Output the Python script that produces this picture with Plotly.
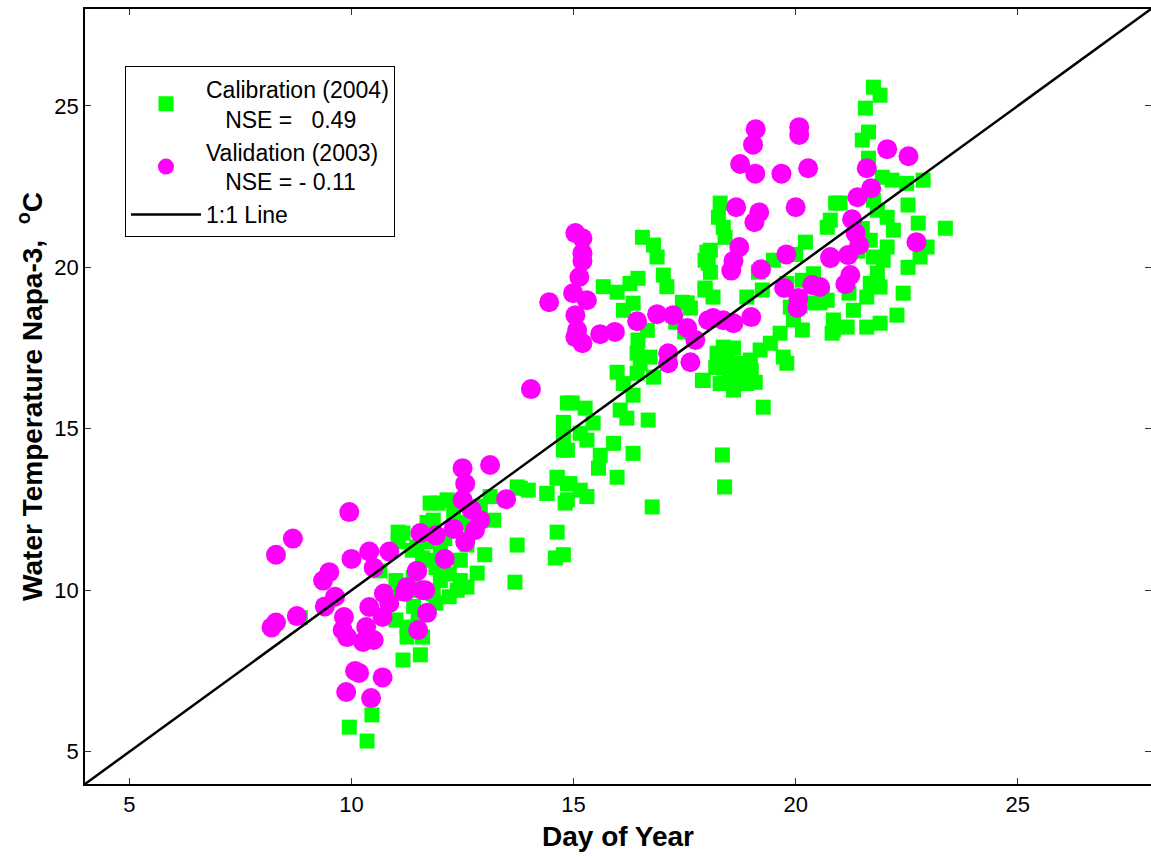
import plotly.graph_objects as go

# Calibration (2004) - green squares: (x, y)
cal_x = [11.05, 11.05, 11.7, 11.77, 11.37, 11.6, 10.64, 11.0, 11.1, 11.0, 11.25, 11.25, 11.16, 11.55, 11.6,
         10.46, 9.95, 10.35, 8.85, 11.4, 11.5, 11.3, 11.9, 12.2,
         14.86, 14.77, 14.77, 14.63, 14.86, 14.4, 14.81, 14.63, 13.73, 14.59, 14.77, 13.68, 13.73, 13.12,
         13.2, 11.95, 12.15, 11.84, 11.16, 11.47, 12.0, 12.45, 12.83, 12.45, 12.6, 12.0, 12.38, 11.84,
         11.39, 11.77, 12.3, 12.6, 12.9, 13.0, 12.5, 11.7, 12.1, 12.2, 11.9, 12.7, 13.98,
         16.55, 16.8, 16.88, 17.02, 17.1, 18.0, 17.96, 17.96, 15.67, 15.98, 16.27, 16.45, 16.34, 16.12,
         17.45, 17.63, 16.66, 16.45, 16.43, 16.5, 16.43, 16.72, 16.8, 15.98, 16.12, 16.34, 16.05, 16.2,
         16.68, 17.9, 14.97, 15.26, 14.77, 15.44, 14.77, 15.15, 15.3, 14.86, 15.9, 15.6, 16.34, 15.56,
         15.98, 14.63, 14.92, 15.15, 15.3, 14.4, 14.86, 13.8, 16.77, 17.3, 17.5,
         18.3, 18.26, 18.37, 18.41, 18.08, 18.03, 18.08, 17.96, 18.14, 17.56, 20.9, 20.71, 20.22, 19.5,
         19.16, 18.9, 19.25, 20.15, 20.37, 19.88, 19.95, 20.15, 20.85, 20.55, 19.65, 19.43, 19.2, 19.72,
         19.8, 18.98, 18.68, 18.37, 18.23, 17.92, 18.3, 18.6, 18.9, 19.09, 18.75, 19.27, 18.37, 18.35,
         18.4, 18.5, 18.8, 19.0, 18.6, 18.2, 18.45, 18.7,
         21.75, 21.9, 21.57, 21.64, 21.5, 21.64, 21.95, 22.17, 22.5, 22.87, 22.53, 22.76, 23.37, 22.96,
         22.8, 22.53, 22.42, 22.28, 21.9, 21.6, 20.82, 20.85, 20.71, 21.0, 20.78, 22.2, 22.06, 21.97,
         21.84, 21.68, 21.6, 21.3, 21.16, 21.84, 21.75, 22.06, 21.68, 21.75, 21.9, 21.4, 21.2, 21.5,
         20.6, 20.4, 20.1, 20.0, 19.8]
cal_y = [11.8, 11.5, 12.1, 12.7, 11.24, 11.0, 10.6, 10.3, 9.9, 9.08, 8.86, 8.55, 7.84, 8.0, 8.55,
         6.14, 5.76, 5.33, 9.15, 9.5, 9.2, 10.0, 9.6, 9.8,
         15.8, 15.18, 14.34, 13.47, 13.3, 13.0, 12.7, 11.8, 11.4, 11.0, 11.1, 10.25, 13.2, 12.9,
         12.17, 12.7, 12.8, 12.17, 11.77, 11.34, 11.24, 10.93, 10.53, 10.3, 10.1, 10.3, 10.0, 9.9,
         10.4, 10.93, 12.4, 11.4, 12.6, 11.1, 12.1, 11.5, 11.6, 10.5, 10.7, 11.9, 13.1,
         20.93, 20.69, 20.32, 19.76, 19.4, 20.47, 20.22, 19.36, 19.4, 19.23, 19.5, 19.66, 18.89, 18.67,
         18.92, 18.74, 18.05, 17.75, 17.34, 17.03, 16.72, 17.22, 16.6, 16.75, 16.4, 16.04, 15.58, 15.33,
         15.27, 16.5, 15.8, 15.64, 15.2, 15.18, 14.74, 14.86, 14.65, 14.34, 14.55, 14.18, 14.24, 13.78,
         13.5, 13.5, 13.3, 13.1, 12.9, 13.0, 12.8, 13.16, 12.58, 18.3, 18.0,
         21.99, 21.55, 21.24, 20.93, 20.53, 20.13, 19.85, 19.3, 19.08, 18.9, 21.99, 21.24, 20.78, 20.22,
         19.85, 19.08, 19.3, 19.6, 18.9, 18.77, 18.37, 18.06, 18.06, 18.9, 17.96, 17.65, 17.44, 17.22,
         17.03, 17.13, 17.03, 16.88, 17.34, 16.5, 16.4, 16.2, 16.4, 16.44, 16.72, 15.67, 17.53, 14.19,
         13.2, 16.6, 16.9, 16.8, 17.5, 16.9, 17.1, 16.5,
         25.58, 25.33, 24.93, 24.19, 23.94, 23.38, 22.79, 22.7, 22.6, 22.7, 21.93, 21.37, 21.21, 20.63,
         20.32, 20.0, 19.2, 18.52, 18.27, 18.15, 17.96, 18.37, 18.98, 21.99, 21.46, 21.15, 20.63, 20.22,
         19.82, 19.5, 19.08, 18.67, 18.15, 21.77, 22.08, 21.55, 20.84, 20.32, 19.39, 20.5, 19.2, 21.2,
         19.2, 19.8, 18.8, 20.4, 19.5]

# Validation (2003) - magenta circles
val_x = [9.95, 8.68, 8.3, 10.0, 10.4, 10.85, 10.5, 9.5, 9.36, 9.63, 9.4, 8.2, 8.3, 8.77, 9.83, 9.8,
         9.9, 10.4, 10.73, 10.85, 10.7, 10.33, 10.26, 10.5, 10.17, 10.08, 10.7, 9.88, 10.44, 11.55,
         11.48, 11.2, 11.6, 11.7, 11.5,
         14.04, 12.5, 13.12, 12.56, 12.5, 13.48, 12.7, 12.9, 12.78, 12.56, 12.3, 11.9, 12.1, 11.47,
         11.66, 11.25,
         15.04, 15.2, 15.2, 15.2, 15.13, 14.99, 15.3, 14.45, 15.04, 15.08, 15.04, 15.2, 15.6, 15.93,
         16.43, 16.88, 17.24, 17.56, 17.74, 17.13, 17.13, 17.63, 18.03,
         19.1, 19.04, 20.08, 20.08, 18.75, 19.09, 19.68, 20.28, 18.66, 19.18, 19.07, 20.0, 18.73, 18.6,
         18.55, 19.22, 19.79, 20.78, 20.37, 19.74, 20.06, 20.04, 19.0, 18.14, 18.37, 18.6,
         22.06, 22.54, 21.6, 21.7, 21.39, 21.27, 21.35, 21.43, 21.18, 20.78, 21.23, 21.12, 22.72, 20.55]
val_y = [12.42, 11.6, 11.1, 10.97, 11.2, 11.2, 10.7, 10.56, 10.3, 9.8, 9.5, 8.85, 9.0, 9.2, 9.17, 8.77,
         8.55, 9.48, 9.9, 9.6, 9.17, 8.86, 8.4, 8.46, 7.44, 7.5, 7.3, 6.85, 6.66, 11.77,
         10.6, 9.95, 10.0, 9.3, 8.77,
         16.23, 13.78, 13.88, 13.3, 12.8, 12.82, 12.5, 12.17, 11.86, 11.5, 11.9, 11.7, 10.97, 10.6,
         10.0, 10.1,
         21.06, 20.9, 20.44, 20.2, 19.7, 19.2, 18.98, 18.92, 18.52, 18.06, 17.84, 17.65, 17.93, 18.0,
         18.33, 18.55, 18.52, 18.12, 17.75, 17.34, 17.03, 17.06, 18.36,
         24.28, 23.8, 24.34, 24.1, 23.2, 22.9, 22.9, 23.07, 21.86, 21.7, 21.4, 21.86, 20.63, 20.2,
         19.9, 19.94, 20.4, 20.32, 19.45, 19.36, 19.05, 18.74, 18.46, 18.43, 18.36, 18.27,
         23.66, 23.44, 23.07, 22.45, 22.17, 21.49, 21.06, 20.69, 20.38, 20.28, 19.76, 19.48, 20.78, 19.39]

line_x = [4, 28]
line_y = [4, 28]
tick_vals = [5, 10, 15, 20, 25]

FONT = "Liberation Sans, Arial, sans-serif"

fig = go.Figure()
fig.add_trace(go.Scatter(
    x=cal_x, y=cal_y, mode="markers",
    name="Calibration (2004)<br>\u00a0\u00a0\u00a0NSE =\u00a0\u00a0\u00a00.49",
    marker=dict(symbol="square", size=15, color="#00FF00", line=dict(width=0)),
))
fig.add_trace(go.Scatter(
    x=val_x, y=val_y, mode="markers",
    name="Validation (2003)<br>\u00a0\u00a0\u00a0NSE = - 0.11",
    marker=dict(symbol="circle", size=20, color="#FF00FF", line=dict(width=0)),
))
fig.add_trace(go.Scatter(
    x=line_x, y=line_y, mode="lines", name="1:1 Line", yaxis="y2",
    line=dict(color="black", width=2.5), hoverinfo="skip",
))

tick_common = dict(
    range=[4, 28], tickvals=tick_vals, ticks="inside", ticklen=6, tickwidth=1,
    tickcolor="#333333", showgrid=False, zeroline=False,
    tickfont=dict(family=FONT, size=22, color="black"),
)

fig.update_layout(
    width=1151, height=857,
    margin=dict(l=85, r=0, t=9, b=73),
    paper_bgcolor="white", plot_bgcolor="white",
    font=dict(family=FONT, color="black"),
    xaxis=dict(**tick_common, showline=True, linecolor="black", linewidth=1.5, mirror="ticks",
               title=dict(text="<b>Day of Year</b>", font=dict(family=FONT, size=28), standoff=10)),
    yaxis=dict(**tick_common, showline=True, linecolor="black", linewidth=1.5, mirror=False,
               title=dict(text="<b>Water Temperature Napa-3,  <sup>o</sup>C</b>",
                          font=dict(family=FONT, size=28), standoff=4)),
    yaxis2=dict(**tick_common, overlaying="y", side="right", showline=False,
                showticklabels=False),
    legend=dict(x=0.0375, y=0.926, xanchor="left", yanchor="top",
                bgcolor="white", bordercolor="black", borderwidth=1,
                font=dict(family=FONT, size=23), itemwidth=70, tracegroupgap=0),
    showlegend=True,
)

fig.write_html("out.html")
